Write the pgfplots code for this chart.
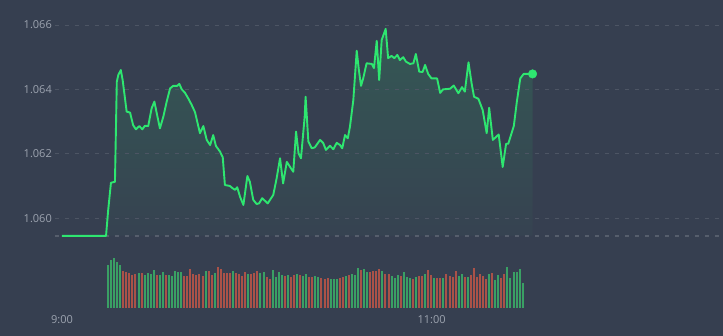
\documentclass[border=0pt]{standalone}
\usepackage{fontspec}
\setmainfont{Open Sans}
\usepackage{pgfplots}
\pgfplotsset{compat=1.18}
\usepackage{pgfplotstable}
\definecolor{bgc}{RGB}{54,63,80}
\definecolor{linec}{RGB}{46,230,112}
\definecolor{gridc}{RGB}{77,85,100}
\definecolor{refc}{RGB}{86,94,108}
\definecolor{labc}{RGB}{156,163,175}
\definecolor{volg}{RGB}{58,160,100}
\definecolor{volr}{RGB}{170,82,72}
\colorlet{fillc}{linec!15!bgc}
\colorlet{fillb}{linec!2!bgc}

\pgfplotstableread{
m p
0 1.05945
14.3 1.05945
15.0 1.06025
15.9 1.06110
17.2 1.06113
17.8 1.06424
18.3 1.06445
19.1 1.06460
19.7 1.06429
21.0 1.06331
22.1 1.06328
23.1 1.06289
24.0 1.06276
25.1 1.06286
26.1 1.06276
26.9 1.06287
28.0 1.06286
29.1 1.06341
30.0 1.06362
30.9 1.06320
31.8 1.06279
32.9 1.06315
34.0 1.06362
35.1 1.06403
36.1 1.06411
37.4 1.06411
38.1 1.06417
38.9 1.06400
39.9 1.06390
41.0 1.06372
42.1 1.06352
43.2 1.06329
44.8 1.06264
45.9 1.06286
47.0 1.06243
48.1 1.06227
49.1 1.06258
50.0 1.06224
51.3 1.06207
52.2 1.06189
52.9 1.06103
54.5 1.06100
55.4 1.06093
56.2 1.06088
56.9 1.06096
57.8 1.06067
58.9 1.06041
60.2 1.06131
61.0 1.06113
62.1 1.06057
63.2 1.06044
64.0 1.06046
65.0 1.06062
66.8 1.06046
68.6 1.06072
69.7 1.06124
70.8 1.06186
71.8 1.06108
73.0 1.06175
74.0 1.06160
75.1 1.06144
76.0 1.06269
76.8 1.06202
77.6 1.06186
78.8 1.06315
79.1 1.06377
80.0 1.06238
81.1 1.06217
82.1 1.06220
83.8 1.06243
84.8 1.06234
85.7 1.06212
87.0 1.06225
88.1 1.06214
89.2 1.06234
90.3 1.06227
91.0 1.06217
91.9 1.06258
92.8 1.06248
93.5 1.06284
94.6 1.06367
95.7 1.06520
96.4 1.06460
97.1 1.06411
97.8 1.06434
98.9 1.06481
100.6 1.06479
101.3 1.06466
102.2 1.06551
103.0 1.06429
103.8 1.06553
105.1 1.06588
105.9 1.06497
107.0 1.06504
107.9 1.06497
108.9 1.06507
109.7 1.06491
110.8 1.06500
111.7 1.06486
113.0 1.06479
114.1 1.06481
114.9 1.06510
116.0 1.06455
117.1 1.06454
117.9 1.06476
118.9 1.06448
120.0 1.06434
121.8 1.06434
122.8 1.06389
123.7 1.06400
126.0 1.06402
127.2 1.06412
128.7 1.06388
129.9 1.06407
130.8 1.06393
132.0 1.06484
133.0 1.06419
133.8 1.06377
135.2 1.06371
136.6 1.06336
137.9 1.06264
138.7 1.06343
139.9 1.06243
141.8 1.06260
143.1 1.06159
144.2 1.06231
144.9 1.06231
146.7 1.06286
147.7 1.06362
148.8 1.06434
149.9 1.06448
152.8 1.06448
}\pricedata

\pgfplotstableread{
k v
0 42.7
1 47.7
2 49.7
3 46.0
4 42.7
10 34.3
12 32.7
13 34.3
14 33.3
15 37.7
17 32.7
18 35.3
20 32.7
21 31.7
22 36.7
23 35.3
24 35.3
32 36.7
35 34.7
41 36.7
46 33.7
50 35.0
51 36.0
54 37.7
55 30.7
56 36.0
57 32.7
59 32.7
62 33.7
64 31.7
65 33.7
68 31.7
69 30.7
73 28.7
74 28.7
75 28.7
78 31.7
80 33.7
81 32.7
82 39.7
84 38.7
85 35.7
90 36.7
93 31.7
94 29.7
95 32.7
97 35.7
98 30.7
99 29.7
101 30.7
104 33.7
107 29.7
110 29.7
115 31.7
116 33.7
118 30.7
125 33.7
127 27.7
128 32.7
131 40.7
132 29.7
133 35.7
134 35.7
135 38.7
136 24.7
}\volgreen

\pgfplotstableread{
k v
5 36.7
6 35.3
7 34.3
8 32.7
9 33.3
11 34.3
16 32.7
19 32.7
25 31.7
26 31.7
27 38.7
28 33.7
29 32.7
30 33.3
31 31.7
33 36.7
34 32.7
36 40.3
37 38.7
38 34.7
39 34.7
40 34.7
42 34.7
43 33.3
44 31.7
45 36.0
47 33.7
48 35.0
49 36.7
52 30.7
53 28.7
58 31.7
60 30.7
61 32.7
63 32.7
66 30.7
67 30.7
70 29.7
71 28.7
72 29.7
76 29.7
77 30.7
79 32.7
83 37.7
86 35.7
87 36.7
88 36.7
89 38.7
91 33.7
92 33.7
96 31.7
100 28.7
102 31.7
103 31.7
105 37.7
106 32.7
108 29.7
109 29.7
111 33.7
112 31.7
113 30.7
114 36.7
117 30.7
119 32.7
120 39.7
121 30.7
122 33.7
123 31.7
124 28.7
126 34.7
129 29.7
130 33.7
}\volred

\begin{document}
\begin{tikzpicture}
\fill[bgc] (0pt,0pt) rectangle (723pt,336pt);
\begin{axis}[
  at={(55pt,91pt)}, anchor=south west, scale only axis,
  width=668pt, height=245pt,
  xmin=-2.27, xmax=214.6, ymin=1.059168, ymax=1.066776,
  axis line style={draw=none}, major tick length=0pt,
  xtick=\empty, ytick={1.060,1.062,1.064,1.066},
  yticklabel style={labc, font=\fontsize{11}{13}\selectfont, inner sep=0pt, xshift=-3pt,
    /pgf/number format/fixed, /pgf/number format/fixed zerofill,
    /pgf/number format/precision=3, /pgf/number format/assume math mode=true},
]
\addplot[draw=none, top color=fillc, bottom color=fillb, forget plot] table[x=m, y=p] {\pricedata}
  -- (axis cs:152.8,1.05945) -- (axis cs:0,1.05945) -- cycle;
\addplot[gridc, line width=0.8pt, dash pattern=on 4pt off 6pt, forget plot] coordinates {(-2.27,1.060) (214.6,1.060)};
\addplot[gridc, line width=0.8pt, dash pattern=on 4pt off 6pt, forget plot] coordinates {(-2.27,1.062) (214.6,1.062)};
\addplot[gridc, line width=0.8pt, dash pattern=on 4pt off 6pt, forget plot] coordinates {(-2.27,1.064) (214.6,1.064)};
\addplot[gridc, line width=0.8pt, dash pattern=on 4pt off 6pt, forget plot] coordinates {(-2.27,1.066) (214.6,1.066)};
\addplot[refc, line width=2pt, dash pattern=on 4pt off 6pt, forget plot] coordinates {(-2.27,1.05944) (214.6,1.05944)};
\addplot[linec, line width=1.9pt, line join=round, no marks] table[x=m, y=p] {\pricedata};
\addplot[linec, only marks, mark=*, mark size=4.3pt] coordinates {(152.8,1.06448)};
\end{axis}
\begin{axis}[
  at={(55pt,28.3pt)}, anchor=south west, scale only axis,
  width=668pt, height=50pt,
  xmin=-2.27, xmax=214.6, ymin=0, ymax=50,
  axis line style={draw=none}, major tick length=0pt,
  ytick=\empty, xtick={0,120}, xticklabels={9:00,11:00},
  xticklabel style={labc, font=\fontsize{11}{13}\selectfont, inner sep=0pt, anchor=north, yshift=-8pt},
]
\addplot[ycomb, volg, line width=2pt, no marks] table[x expr=14.95+0.99*\thisrow{k}, y=v] {\volgreen};
\addplot[ycomb, volr, line width=2pt, no marks] table[x expr=14.95+0.99*\thisrow{k}, y=v] {\volred};
\end{axis}
\end{tikzpicture}
\end{document}
